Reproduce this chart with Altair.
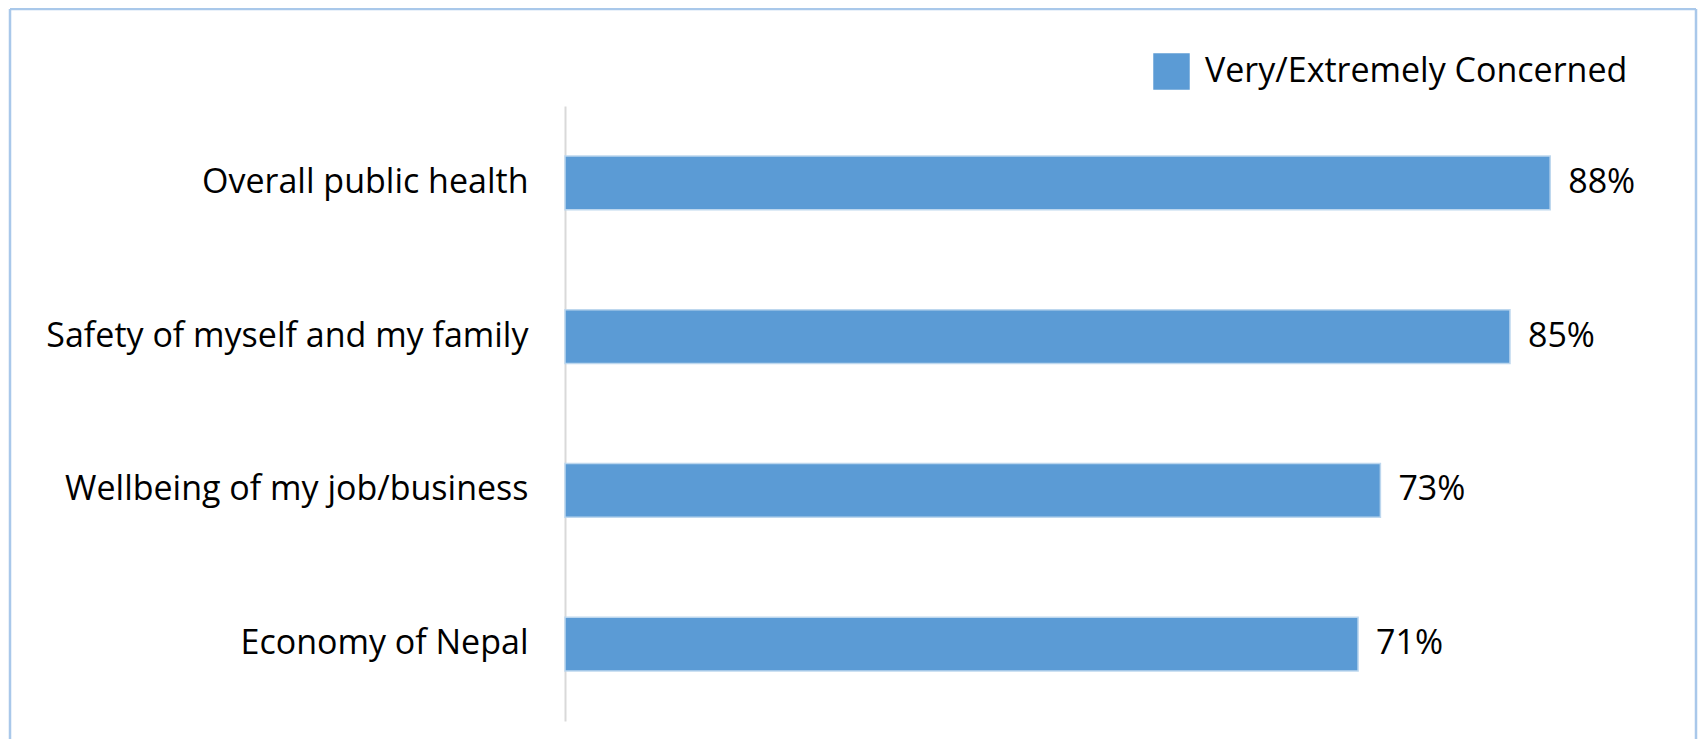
import altair as alt
import pandas as pd

categories = ["Overall public health", "Safety of myself and my family",
              "Wellbeing of my job/business", "Economy of Nepal"]
values = [88.2, 84.6, 73.0, 71.0]
series_name = "Very/Extremely Concerned"

df = pd.DataFrame({"category": categories, "value": values,
                   "series": [series_name] * len(categories)})

FONT = "Open Sans"
BAR = "#5B9BD5"
FRAME = "#A9C8EA"

base = alt.Chart(df).encode(
    y=alt.Y("category:N", sort=categories, title=None,
            scale=alt.Scale(paddingInner=0.65, paddingOuter=0.325),
            axis=alt.Axis(ticks=False, labelPadding=37, labelFontSize=34,
                          labelFont=FONT, labelColor="#000000",
                          domainColor="#D9D9D9", domainWidth=2,
                          labelLimit=600)),
    x=alt.X("value:Q", title=None, scale=alt.Scale(domain=[0, 100], nice=False),
            axis=None),
)

bars = base.mark_bar(stroke="#BDD7EE", strokeWidth=1.5).encode(
    color=alt.Color("series:N", scale=alt.Scale(range=[BAR]),
                    legend=alt.Legend(title=None, orient="none", legendX=588,
                                      legendY=-53, symbolType="square",
                                      symbolSize=1330, symbolStrokeWidth=0,
                                      labelFont=FONT, labelFontSize=34,
                                      labelColor="#000000", labelOffset=15,
                                      padding=0, labelLimit=800))
)

labels = base.mark_text(align="left", baseline="middle", dx=18, font=FONT,
                        fontSize=34, color="#000000").encode(
    text=alt.Text("label:N")
).transform_calculate(label="format(datum.value, '.0f') + '%'")

one = alt.Chart(df).transform_filter("datum.category == 'Economy of Nepal'")
frame_left = one.mark_rule(color=FRAME, strokeWidth=2.5).encode(
    x=alt.value(-555), y=alt.value(-97), y2=alt.value(650))
frame_top = one.mark_rule(color=FRAME, strokeWidth=2.5).encode(
    x=alt.value(-555), x2=alt.value(1131), y=alt.value(-97))
frame_right = one.mark_rule(color=FRAME, strokeWidth=2.5).encode(
    x=alt.value(1131), y=alt.value(-97), y2=alt.value(650))

chart = alt.layer(frame_left, frame_top, frame_right, bars, labels).properties(
    width=1117, height=615,
    autosize=alt.AutoSizeParams(type="none"),
    padding={"left": 557, "top": 98, "right": 16, "bottom": 18},
    background="white",
).configure_view(stroke="transparent", strokeWidth=0)

chart.save("out.html", embed_options={"renderer": "svg", "actions": False})
